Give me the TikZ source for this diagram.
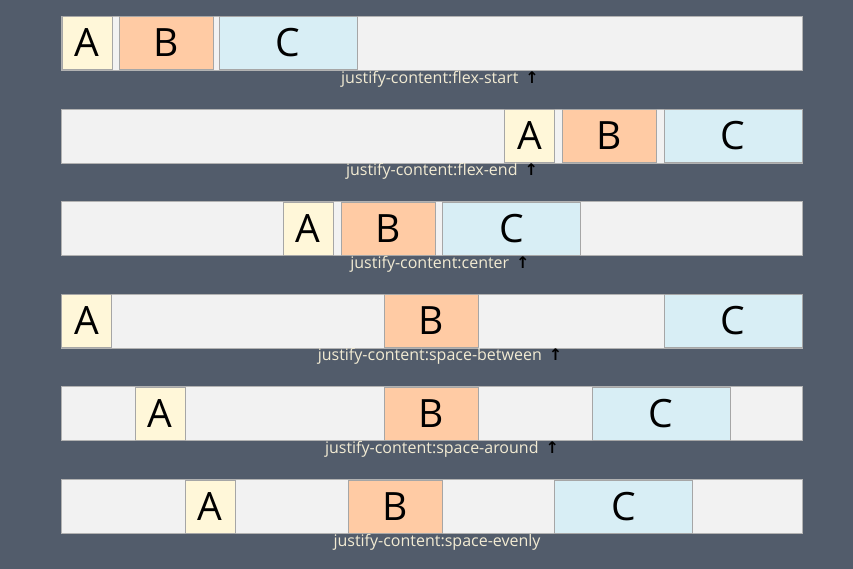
\documentclass[tikz,border=0pt]{standalone}
\usepackage{fontspec}
\setmainfont{Open Sans}
\newfontfamily\arrowfont{DejaVu Sans}
\definecolor{bgslate}{HTML}{525C6B}
\definecolor{rowgray}{HTML}{F2F2F2}
\definecolor{itemA}{HTML}{FFF7D9}
\definecolor{itemB}{HTML}{FFCBA4}
\definecolor{itemC}{HTML}{D8EEF5}
\definecolor{labelcream}{HTML}{F2EBD3}
\newcommand{\uparr}{\hspace{7pt}{\arrowfont\bfseries\color{black}\char"2191}}
\begin{document}
\begin{tikzpicture}[x=1pt,y=-1pt,
    row/.style={fill=rowgray,draw=gray!60,line width=.4pt,minimum width=741pt,minimum height=54pt,inner sep=0pt},
    flexitem/.style={draw=gray!70,line width=.5pt,minimum height=53pt,inner sep=0pt,font=\fontsize{39}{39}\selectfont},
    boxA/.style={flexitem,fill=itemA,minimum width=50pt},
    boxB/.style={flexitem,fill=itemB,minimum width=94pt},
    boxC/.style={flexitem,fill=itemC,minimum width=138pt},
    caption/.style={text=labelcream,inner sep=0pt,font=\fontsize{16}{16}\selectfont}]
    \fill[bgslate] (0,0) rectangle (853,569);
    \useasboundingbox (0,0) rectangle (853,569);
    % flex-start
    \node[row] (r1) at (431.5,43) {};
    \node[boxA] (a1) at (87,43) {A};
    \node[boxB] (b1) at (166,43) {B};
    \node[boxC] (c1) at (288,43) {C};
    \node[caption] (l1) at (440,79) {justify-content:flex-start\uparr};
    % flex-end
    \node[row] (r2) at (431.5,136) {};
    \node[boxA] (a2) at (529.5,136) {A};
    \node[boxB] (b2) at (609,136) {B};
    \node[boxC] (c2) at (733,136) {C};
    \node[caption] (l2) at (442,171) {justify-content:flex-end\uparr};
    % center
    \node[row] (r3) at (431.5,228.5) {};
    \node[boxA] (a3) at (308,228.5) {A};
    \node[boxB] (b3) at (388,228.5) {B};
    \node[boxC] (c3) at (511.5,228.5) {C};
    \node[caption] (l3) at (440,264) {justify-content:center\uparr};
    % space-between
    \node[row] (r4) at (431.5,321) {};
    \node[boxA] (a4) at (86.5,321) {A};
    \node[boxB] (b4) at (431.5,321) {B};
    \node[boxC] (c4) at (733,321) {C};
    \node[caption] (l4) at (440,356) {justify-content:space-between\uparr};
    % space-around
    \node[row] (r5) at (431.5,413.5) {};
    \node[boxA] (a5) at (160,413.5) {A};
    \node[boxB] (b5) at (431.5,413.5) {B};
    \node[boxC] (c5) at (661,413.5) {C};
    \node[caption] (l5) at (442,449) {justify-content:space-around\uparr};
    % space-evenly
    \node[row] (r6) at (431.5,506.5) {};
    \node[boxA] (a6) at (210,506.5) {A};
    \node[boxB] (b6) at (395,506.5) {B};
    \node[boxC] (c6) at (623.5,506.5) {C};
    \node[caption] (l6) at (437,542) {justify-content:space-evenly};
\end{tikzpicture}
\end{document}
